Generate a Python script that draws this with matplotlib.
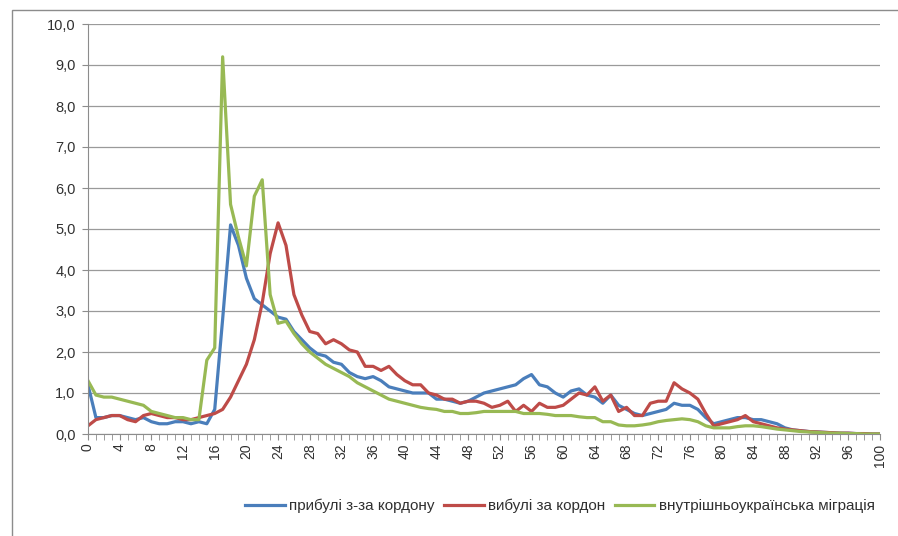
import numpy as np
import matplotlib.pyplot as plt
from matplotlib.ticker import FuncFormatter, MultipleLocator
from matplotlib.patches import Rectangle

plt.rcParams['font.family'] = ['Liberation Sans', 'DejaVu Sans']

# вік 0..100
vik = np.arange(0, 101)

prybuli = [
    1.2, 0.4, 0.4, 0.45, 0.45, 0.4, 0.35, 0.4, 0.3, 0.25,
    0.25, 0.3, 0.3, 0.25, 0.3, 0.25, 0.6, 2.8, 5.1, 4.6,
    3.8, 3.3, 3.15, 3.0, 2.85, 2.8, 2.5, 2.3, 2.1, 1.95,
    1.9, 1.75, 1.7, 1.5, 1.4, 1.35, 1.4, 1.3, 1.15, 1.1,
    1.05, 1.0, 1.0, 1.0, 0.85, 0.85, 0.8, 0.75, 0.8, 0.9,
    1.0, 1.05, 1.1, 1.15, 1.2, 1.35, 1.45, 1.2, 1.15, 1.0,
    0.9, 1.05, 1.1, 0.95, 0.9, 0.75, 0.95, 0.7, 0.6, 0.5,
    0.45, 0.5, 0.55, 0.6, 0.75, 0.7, 0.7, 0.6, 0.4, 0.25,
    0.3, 0.35, 0.4, 0.4, 0.35, 0.35, 0.3, 0.25, 0.15, 0.1,
    0.08, 0.06, 0.05, 0.04, 0.03, 0.02, 0.02, 0.01, 0.01, 0.0,
    0.0,
]

vybuli = [
    0.2, 0.35, 0.4, 0.45, 0.45, 0.35, 0.3, 0.45, 0.5, 0.45,
    0.4, 0.4, 0.35, 0.35, 0.4, 0.45, 0.5, 0.6, 0.9, 1.3,
    1.7, 2.3, 3.2, 4.4, 5.15, 4.6, 3.4, 2.9, 2.5, 2.45,
    2.2, 2.3, 2.2, 2.05, 2.0, 1.65, 1.65, 1.55, 1.65, 1.45,
    1.3, 1.2, 1.2, 1.0, 0.95, 0.85, 0.85, 0.75, 0.8, 0.8,
    0.75, 0.65, 0.7, 0.8, 0.55, 0.7, 0.55, 0.75, 0.65, 0.65,
    0.7, 0.85, 1.0, 0.95, 1.15, 0.8, 0.95, 0.55, 0.65, 0.45,
    0.45, 0.75, 0.8, 0.8, 1.25, 1.1, 1.0, 0.85, 0.5, 0.2,
    0.25, 0.3, 0.35, 0.45, 0.3, 0.25, 0.2, 0.15, 0.12, 0.1,
    0.08, 0.06, 0.05, 0.04, 0.03, 0.02, 0.02, 0.01, 0.01, 0.0,
    0.0,
]

vnutrishnia = [
    1.3, 0.95, 0.9, 0.9, 0.85, 0.8, 0.75, 0.7, 0.55, 0.5,
    0.45, 0.4, 0.4, 0.35, 0.35, 1.8, 2.1, 9.2, 5.6, 4.8,
    4.1, 5.8, 6.2, 3.4, 2.7, 2.75, 2.45, 2.2, 2.0, 1.85,
    1.7, 1.6, 1.5, 1.4, 1.25, 1.15, 1.05, 0.95, 0.85, 0.8,
    0.75, 0.7, 0.65, 0.62, 0.6, 0.55, 0.55, 0.5, 0.5, 0.52,
    0.55, 0.55, 0.55, 0.55, 0.55, 0.5, 0.5, 0.5, 0.48, 0.45,
    0.45, 0.45, 0.42, 0.4, 0.4, 0.3, 0.3, 0.22, 0.2, 0.2,
    0.22, 0.25, 0.3, 0.33, 0.35, 0.37, 0.35, 0.3, 0.2, 0.15,
    0.15, 0.15, 0.18, 0.2, 0.2, 0.18, 0.15, 0.12, 0.1, 0.08,
    0.06, 0.05, 0.04, 0.03, 0.02, 0.02, 0.01, 0.01, 0.0, 0.0,
    0.0,
]

nazvy = ['прибулі з-за кордону', 'вибулі за кордон', 'внутрішньоукраїнська міграція']
kolory = ['#4A7EBB', '#BE4B48', '#98B954']

fig = plt.figure(figsize=(8.98, 5.36), dpi=100)
fig.patch.set_facecolor('white')

# рамка області діаграми
fig.patches.append(Rectangle((12 / 898, -0.01), 1.0, 1 - 10 / 536 + 0.01,
                             transform=fig.transFigure, fill=False,
                             edgecolor='#8c8c8c', linewidth=1.0))

ax = fig.add_axes([88 / 898, 1 - 434 / 536, (880 - 88) / 898, (434 - 24) / 536])

for dani, nazva, kolir in zip([prybuli, vybuli, vnutrishnia], nazvy, kolory):
    ax.plot(vik, dani, color=kolir, linewidth=2.3, label=nazva, solid_joinstyle='round')

ax.set_xlim(0, 100)
ax.set_ylim(0, 10)
ax.yaxis.set_major_locator(MultipleLocator(1))
ax.yaxis.set_major_formatter(FuncFormatter(lambda v, p: f'{v:.1f}'.replace('.', ',')))
ax.xaxis.set_major_locator(MultipleLocator(4))
ax.xaxis.set_minor_locator(MultipleLocator(1))
ax.grid(axis='y', color='#9a9a9a', linewidth=0.9)
ax.set_axisbelow(True)

for s in ['top', 'right']:
    ax.spines[s].set_visible(False)
ax.spines['left'].set_color('#8c8c8c')
ax.spines['bottom'].set_color('#8c8c8c')

ax.tick_params(axis='y', length=4, color='#8c8c8c', labelsize=10.5, labelcolor='#303030', pad=5)
ax.tick_params(axis='x', which='both', length=4, color='#8c8c8c', direction='out')
ax.tick_params(axis='x', labelsize=10, labelcolor='#303030', labelrotation=90, pad=3)

fig.legend(loc='center', bbox_to_anchor=(560 / 898, 1 - 506 / 536), ncol=3, frameon=False,
           fontsize=11, handlelength=2.6, columnspacing=0.6, handletextpad=0.3,
           labelcolor='#303030')

fig.savefig('out.png', dpi=100)
